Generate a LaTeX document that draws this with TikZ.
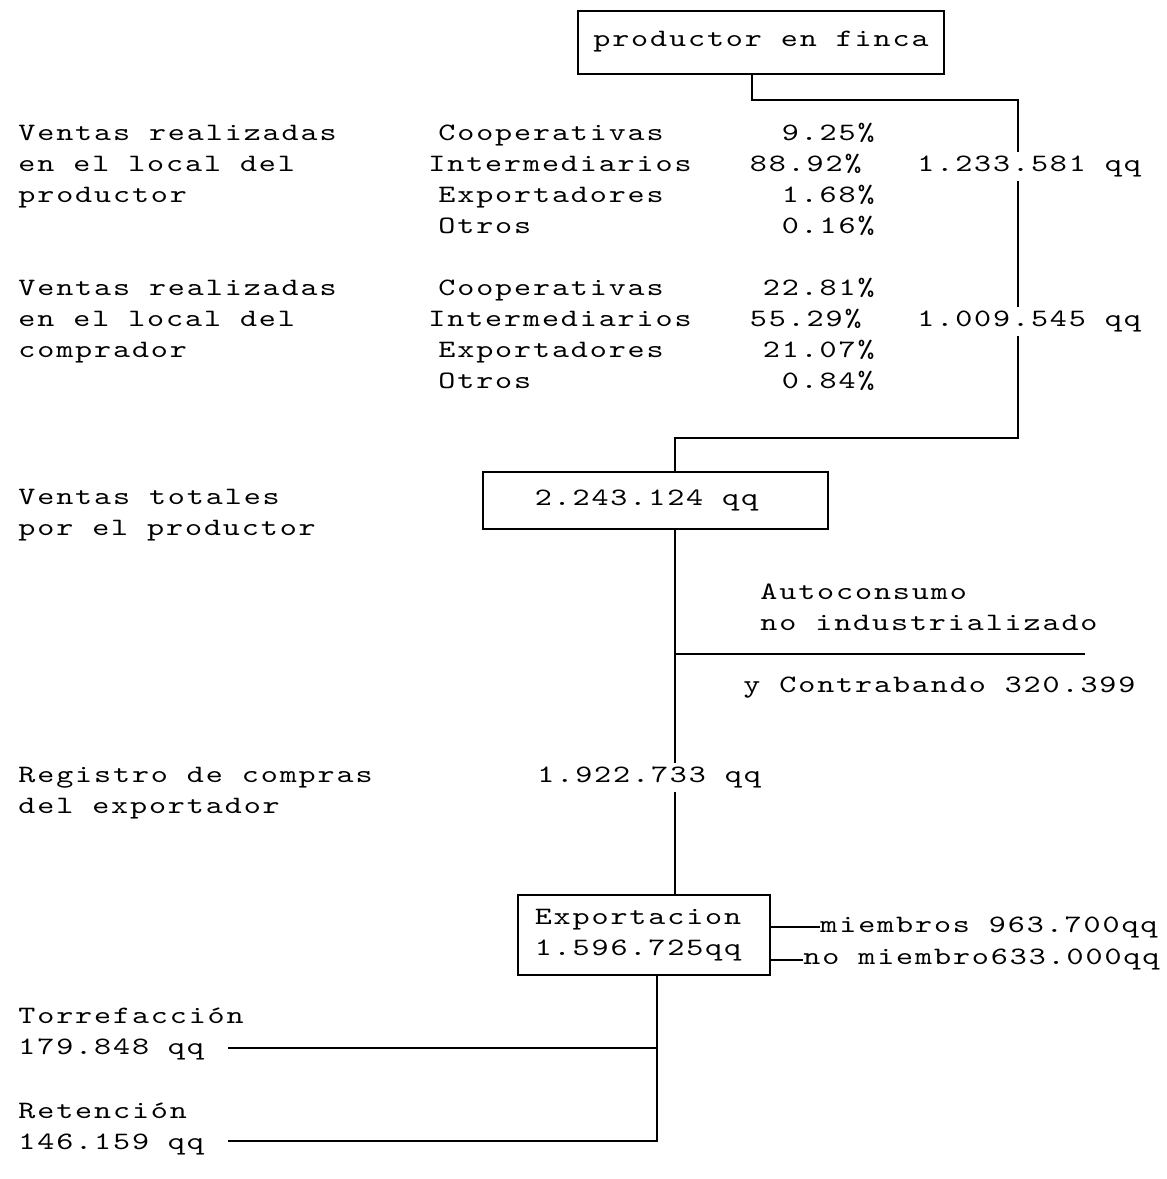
\documentclass[tikz,border=0pt]{standalone}
\usepackage{fontspec}
\setmonofont{lmmono10-regular.otf}[LetterSpace=7.5, FakeStretch=1.3]

\tikzset{
  txt/.style={font=\ttfamily\fontsize{12.5pt}{15.5pt}\selectfont, inner sep=0pt, align=left},
  box/.style={txt, draw, line width=1pt},
  link/.style={line width=1pt},
  gap/.style={txt, fill=white, inner sep=2pt}
}

\begin{document}
\begin{tikzpicture}[x=0.5pt, y=-0.5pt]
  \useasboundingbox (0,0) rectangle (1167,1179);

  % Boxes of the chain
  \node[box, minimum width=183pt, minimum height=31.5pt] (finca) at (761,42) {productor en finca};
  \node[box, minimum width=172.5pt, minimum height=28.5pt] (total) at (655.5,500.5) {2.243.124 qq\kern9pt};
  \node[box, minimum width=126pt, minimum height=40pt] (export) at (644,935) {Exportacion\kern6pt\\1.596.725qq};

  % Corner points of the lines
  \coordinate (c1) at (752,100);
  \coordinate (c2) at (1018,100);
  \coordinate (c3) at (1018,438);
  \coordinate (c4) at (675,438);
  \coordinate (ac) at (1085,654);
  \coordinate (b1) at (657,1048);
  \coordinate (b2) at (657,1141);
  \coordinate (tq) at (228,1048);
  \coordinate (rq) at (228,1141);

  % Draw the lines
  \draw[link] (finca.south -| c1) -- (c1) -- (c2) -- (c3) -- (c4) -- (total.north -| c4);
  \draw[link] (total.south -| c4) -- (export.north -| c4);
  \draw[link] (ac -| c4) -- (ac);
  \draw[link] (export.south -| b1) -- (b2) -- (rq);
  \draw[link] (b1) -- (tq);

  % Sales at the producer
  \node[txt, anchor=base west] (vprod) at (18,202.5) {Ventas realizadas\\en el local del\\productor};
  \node[txt, anchor=base west] (who1) at (438,233.5) {Cooperativas\\\hspace*{-5pt}Intermediarios\\Exportadores\\Otros};
  \node[txt, anchor=base east, align=right] (pct1) at (875,233.5) {9.25\%\\88.92\%\kern6.5pt\\1.68\%\\0.16\%};
  \node[gap, anchor=base west] (q1) at (913,171.5) {1.233.581 qq};

  % Sales at the buyer
  \node[txt, anchor=base west] (vcomp) at (18,357.5) {Ventas realizadas\\en el local del\\comprador};
  \node[txt, anchor=base west] (who2) at (438,388.5) {Cooperativas\\\hspace*{-5pt}Intermediarios\\Exportadores\\Otros};
  \node[txt, anchor=base east, align=right] (pct2) at (875,388.5) {22.81\%\\55.29\%\kern6.5pt\\21.07\%\\0.84\%};
  \node[gap, anchor=base west] (q2) at (913,326.5) {1.009.545 qq};

  % Totals and losses
  \node[txt, anchor=base west] (vtot) at (18,535.5) {Ventas totales\\por el productor};
  \node[txt, anchor=base west] (auto) at (760,630.5) {Autoconsumo\\no industrializado};
  \node[txt, anchor=base west] (contra) at (743,692.5) {y Contrabando 320.399};
  \node[txt, anchor=base west] (regis) at (18,813.5) {Registro de compras\\del exportador};
  \node[gap, anchor=base west] (q3) at (533,782.5) {1.922.733 qq};

  % Export split
  \node[txt, anchor=base west] (miem) at (820,932.5) {miembros 963.700qq};
  \node[txt, anchor=base west] (nomiem) at (803,964.5) {no miembro633.000qq};
  \draw[link] (export.east |- miem.west) -- (miem.west);
  \draw[link] (export.east |- nomiem.west) -- (nomiem.west);

  % Roasting and retention
  \node[txt, anchor=base west] (torre) at (18,1054.5) {Torrefacción\\179.848 qq};
  \node[txt, anchor=base west] (reten) at (18,1149.5) {Retención\\146.159 qq};
\end{tikzpicture}
\end{document}
